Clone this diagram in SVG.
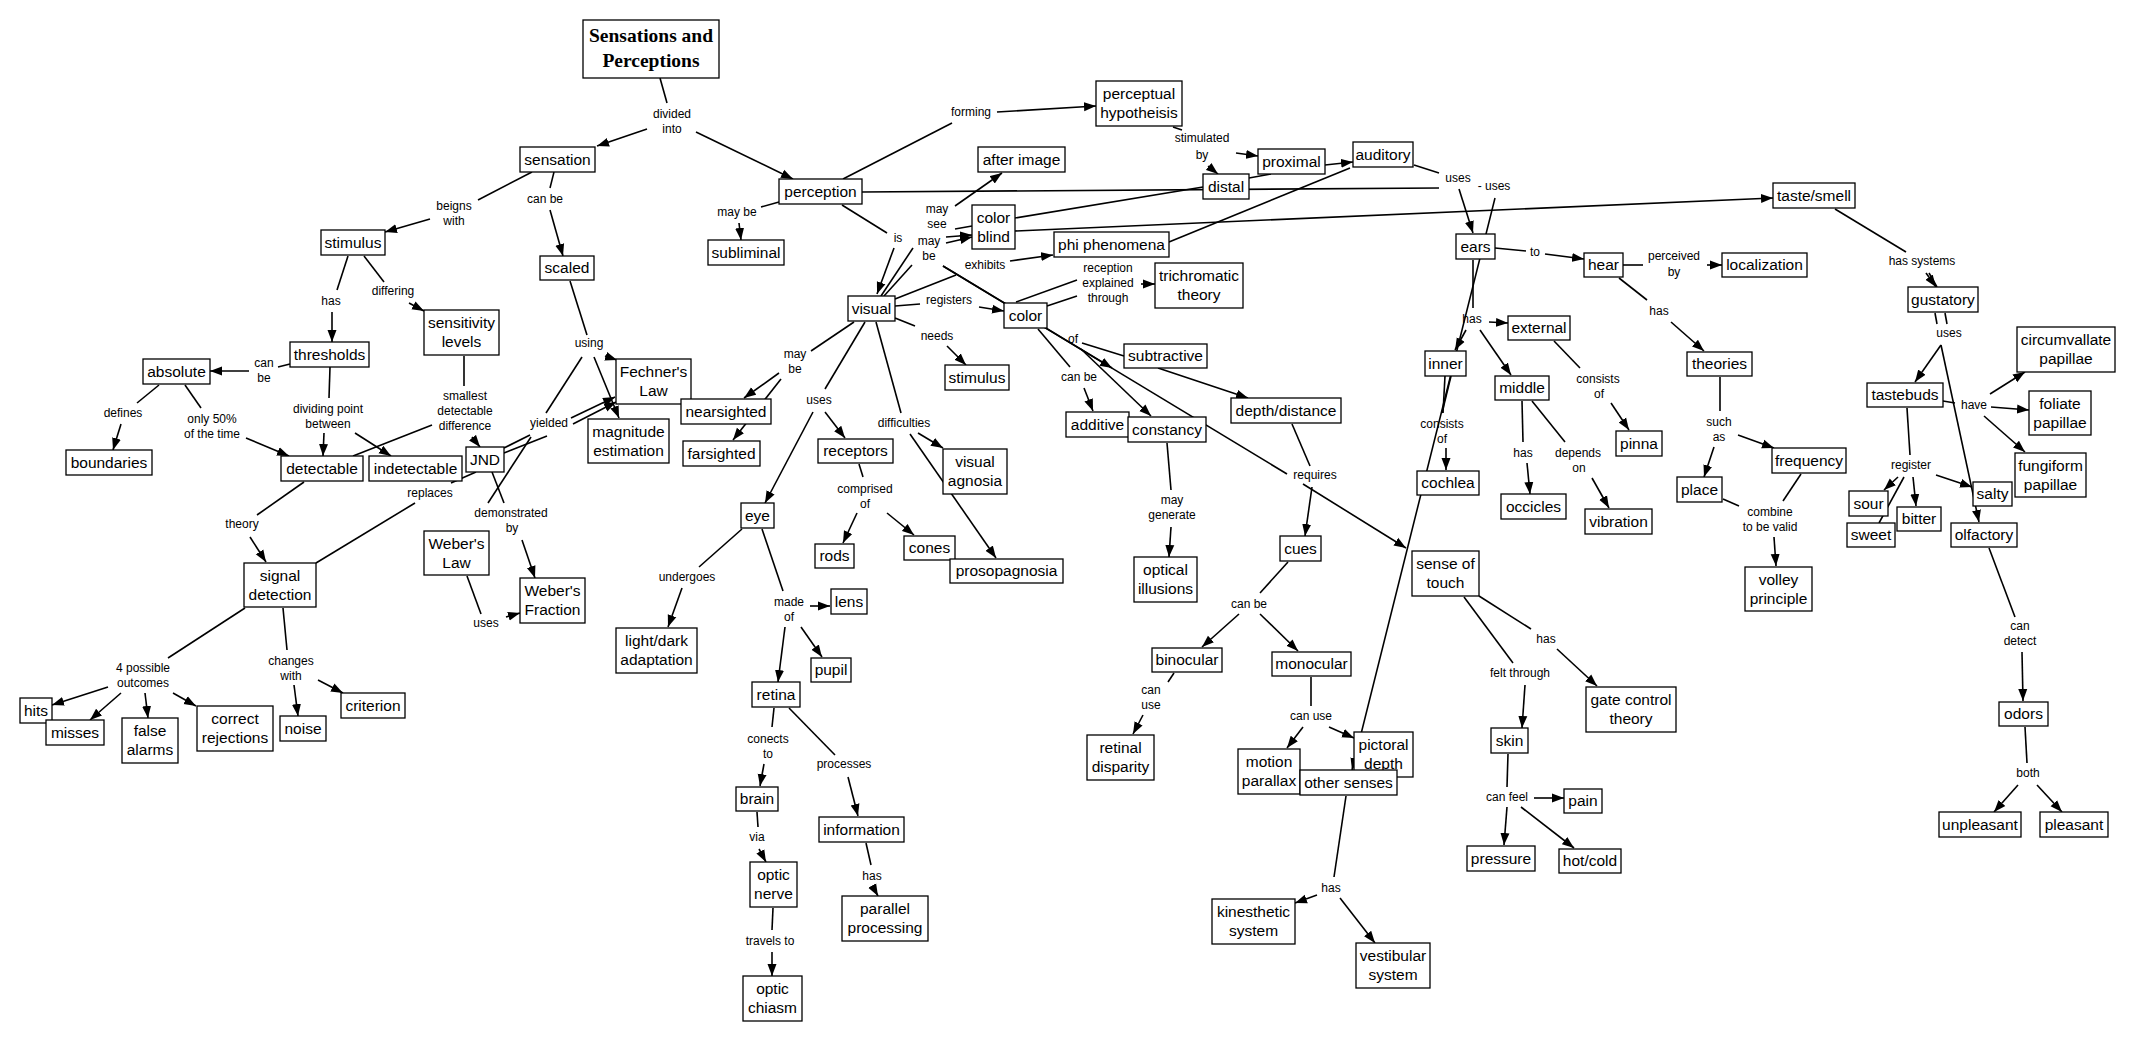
<svg xmlns="http://www.w3.org/2000/svg" width="2130" height="1041" viewBox="0 0 2130 1041">
<style>
.bg{fill:#fff}
.n rect{fill:#fff;stroke:#000;stroke-width:1.3}
.n text{font-family:"Liberation Sans",Arial,sans-serif;font-size:15.5px;text-anchor:middle;fill:#000}
.n text.t{font-family:"Liberation Serif","Times New Roman",serif;font-weight:bold;font-size:19.5px}
.c path{stroke:#000;stroke-width:1.6;fill:none}
.c path.a{marker-end:url(#ah)}
.l text{font-family:"Liberation Sans",Arial,sans-serif;font-size:12px;text-anchor:middle;fill:#000}
</style>
<defs>
<marker id="ah" markerUnits="userSpaceOnUse" markerWidth="13" markerHeight="10" refX="12" refY="5" orient="auto" viewBox="0 0 13 10"><path d="M0,0.5 L12,5 L0,9.5 z" fill="#000"/></marker>
</defs>
<rect class="bg" x="0" y="0" width="2130" height="1041"/>
<g class="c" id="connectors">
<path d="M660,78 L667,103"/>
<path class="a" d="M647,129 L597,146"/>
<path class="a" d="M696,132 L793,179"/>
<path d="M532,172 L478,200"/>
<path class="a" d="M430,219 L385,232"/>
<path d="M554,172 L550,188"/>
<path class="a" d="M550,210 L563,256"/>
<path d="M348,256 L337,290"/>
<path class="a" d="M332,312 L332,342"/>
<path d="M364,256 L384,282"/>
<path class="a" d="M409,303 L424,311"/>
<path d="M290,364 L278,367"/>
<path class="a" d="M249,371 L210,371"/>
<path d="M330,367 L329,398"/>
<path class="a" d="M324,433 L323,456"/>
<path class="a" d="M355,433 L391,456"/>
<path d="M159,385 L137,403"/>
<path class="a" d="M121,424 L113,450"/>
<path d="M185,385 L201,408"/>
<path class="a" d="M246,438 L289,456"/>
<path d="M464,356 L464,386"/>
<path class="a" d="M472,437 L480,447"/>
<path d="M353,456 L432,425"/>
<path d="M476,472 L451,483"/>
<path d="M415,503 L316,563"/>
<path d="M492,472 L504,503"/>
<path class="a" d="M522,540 L535,578"/>
<path d="M504,448 L530,435"/>
<path d="M504,453 L547,436"/>
<path d="M582,357 L546,413"/>
<path d="M531,437 L488,503"/>
<path class="a" d="M571,418 L615,397"/>
<path class="a" d="M573,424 L616,402"/>
<path d="M304,482 L257,515"/>
<path class="a" d="M250,537 L266,562"/>
<path d="M245,608 L168,658"/>
<path d="M283,608 L287,650"/>
<path class="a" d="M318,680 L343,693"/>
<path class="a" d="M294,685 L298,716"/>
<path class="a" d="M108,687 L52,705"/>
<path class="a" d="M121,693 L90,720"/>
<path class="a" d="M145,693 L148,718"/>
<path class="a" d="M173,693 L196,706"/>
<path d="M467,576 L481,614"/>
<path class="a" d="M506,617 L520,613"/>
<path d="M570,281 L587,335"/>
<path class="a" d="M605,356 L617,360"/>
<path class="a" d="M594,357 L619,418"/>
<path d="M779,202 L761,207"/>
<path class="a" d="M739,223 L741,240"/>
<path d="M843,179 L952,123"/>
<path class="a" d="M997,112 L1096,106"/>
<path d="M862,192 L1439,188"/>
<path d="M842,205 L887,233"/>
<path class="a" d="M894,248 L877,294"/>
<path class="a" d="M955,206 L1002,173"/>
<path d="M955,229 L972,226"/>
<path class="a" d="M946,237 L972,235"/>
<path class="a" d="M946,243 L972,237"/>
<path d="M881,296 L913,248"/>
<path d="M884,296 L912,265"/>
<path d="M1015,218 L1203,187"/>
<path class="a" d="M1015,231 L1773,198"/>
<path class="a" d="M943,266 L1112,368"/>
<path d="M943,266 L1287,474"/>
<path class="a" d="M1303,484 L1406,548"/>
<path d="M895,299 L956,275"/>
<path class="a" d="M1010,261 L1053,255"/>
<path d="M895,306 L920,304"/>
<path class="a" d="M979,307 L1004,311"/>
<path d="M895,318 L915,326"/>
<path class="a" d="M947,346 L966,365"/>
<path d="M1016,302 L1077,280"/>
<path d="M1047,306 L1077,296"/>
<path d="M1169,242 L1350,168"/>
<path class="a" d="M1141,284 L1155,284"/>
<path d="M1038,329 L1070,367"/>
<path class="a" d="M1084,388 L1093,411"/>
<path d="M1082,343 L1124,356"/>
<path class="a" d="M1081,349 L1151,416"/>
<path class="a" d="M1158,368 L1248,398"/>
<path d="M1292,424 L1310,466"/>
<path class="a" d="M1312,487 L1305,536"/>
<path d="M1167,443 L1171,490"/>
<path class="a" d="M1171,527 L1169,557"/>
<path d="M1288,562 L1260,593"/>
<path class="a" d="M1239,614 L1202,647"/>
<path class="a" d="M1260,614 L1298,651"/>
<path d="M1174,673 L1168,682"/>
<path class="a" d="M1143,715 L1133,734"/>
<path d="M1311,677 L1311,706"/>
<path class="a" d="M1303,727 L1287,748"/>
<path class="a" d="M1329,727 L1354,738"/>
<path d="M1346,796 L1334,877"/>
<path class="a" d="M1317,895 L1295,903"/>
<path class="a" d="M1340,898 L1375,943"/>
<path d="M1173,127 L1182,130"/>
<path class="a" d="M1236,153 L1258,156"/>
<path class="a" d="M1208,166 L1218,174"/>
<path d="M1249,178 L1271,174"/>
<path class="a" d="M1325,165 L1353,162"/>
<path d="M1414,165 L1439,173"/>
<path class="a" d="M1459,189 L1473,233"/>
<path class="a" d="M1495,198 L1352,770"/>
<path d="M1473,260 L1473,308"/>
<path class="a" d="M1466,330 L1455,350"/>
<path class="a" d="M1480,330 L1511,375"/>
<path class="a" d="M1489,322 L1508,323"/>
<path d="M1495,248 L1526,251"/>
<path class="a" d="M1545,254 L1584,259"/>
<path d="M1451,376 L1442,413"/>
<path d="M1445,376 L1443,413"/>
<path class="a" d="M1446,448 L1446,470"/>
<path d="M1554,341 L1580,368"/>
<path class="a" d="M1611,403 L1629,430"/>
<path d="M1522,401 L1523,442"/>
<path class="a" d="M1527,463 L1530,494"/>
<path d="M1532,401 L1565,442"/>
<path class="a" d="M1592,478 L1609,508"/>
<path d="M1479,596 L1531,629"/>
<path class="a" d="M1557,649 L1597,686"/>
<path d="M1464,597 L1513,663"/>
<path class="a" d="M1525,685 L1522,728"/>
<path d="M1508,754 L1507,787"/>
<path class="a" d="M1534,798 L1564,798"/>
<path class="a" d="M1507,807 L1504,845"/>
<path class="a" d="M1521,807 L1574,848"/>
<path d="M1623,265 L1643,265"/>
<path class="a" d="M1707,265 L1722,265"/>
<path d="M1619,278 L1647,300"/>
<path class="a" d="M1671,322 L1704,351"/>
<path d="M1720,377 L1720,411"/>
<path class="a" d="M1714,447 L1704,477"/>
<path class="a" d="M1738,435 L1774,448"/>
<path d="M1723,499 L1739,506"/>
<path d="M1801,474 L1783,501"/>
<path class="a" d="M1774,537 L1776,566"/>
<path d="M1835,209 L1906,252"/>
<path class="a" d="M1926,273 L1936,287"/>
<path d="M1929,273 L1937,287"/>
<path d="M1935,313 L1937,324"/>
<path d="M1945,313 L1947,324"/>
<path class="a" d="M1941,345 L1915,382"/>
<path class="a" d="M1941,345 L1979,522"/>
<path d="M1943,401 L1955,403"/>
<path class="a" d="M1990,394 L2025,372"/>
<path class="a" d="M1991,407 L2029,410"/>
<path class="a" d="M1984,416 L2025,452"/>
<path d="M1907,408 L1910,455"/>
<path class="a" d="M1898,477 L1884,490"/>
<path d="M1904,477 L1879,523"/>
<path class="a" d="M1913,477 L1916,506"/>
<path class="a" d="M1936,475 L1972,487"/>
<path d="M1989,548 L2015,617"/>
<path class="a" d="M2022,652 L2023,701"/>
<path d="M2025,727 L2027,763"/>
<path class="a" d="M2018,785 L1994,812"/>
<path class="a" d="M2037,785 L2062,812"/>
<path d="M854,322 L811,351"/>
<path class="a" d="M779,373 L744,398"/>
<path class="a" d="M781,379 L733,440"/>
<path d="M865,322 L825,389"/>
<path class="a" d="M813,412 L765,503"/>
<path class="a" d="M825,412 L845,438"/>
<path d="M876,322 L901,413"/>
<path class="a" d="M918,433 L943,448"/>
<path class="a" d="M910,434 L996,558"/>
<path d="M859,464 L863,477"/>
<path class="a" d="M857,513 L843,543"/>
<path class="a" d="M887,513 L914,535"/>
<path d="M742,529 L699,567"/>
<path class="a" d="M682,588 L668,627"/>
<path d="M762,529 L783,591"/>
<path class="a" d="M810,606 L830,606"/>
<path class="a" d="M801,627 L822,657"/>
<path class="a" d="M785,627 L778,682"/>
<path d="M774,708 L772,727"/>
<path class="a" d="M764,764 L760,786"/>
<path d="M789,708 L835,755"/>
<path class="a" d="M848,777 L858,816"/>
<path d="M757,812 L758,827"/>
<path class="a" d="M759,849 L766,862"/>
<path d="M773,908 L772,930"/>
<path class="a" d="M772,952 L772,976"/>
<path d="M866,843 L871,865"/>
<path class="a" d="M873,887 L878,896"/>
</g>
<g class="l" id="labels">
<text x="672" y="118">divided</text><text x="672" y="133">into</text>
<text x="454" y="210">beigns</text><text x="454" y="225">with</text>
<text x="545" y="203">can be</text>
<text x="331" y="305">has</text>
<text x="393" y="295">differing</text>
<text x="264" y="367">can</text><text x="264" y="382">be</text>
<text x="328" y="413">dividing point</text><text x="328" y="428">between</text>
<text x="465" y="400">smallest</text><text x="465" y="415">detectable</text><text x="465" y="430">difference</text>
<text x="123" y="417">defines</text>
<text x="212" y="423">only 50%</text><text x="212" y="438">of the time</text>
<text x="242" y="528">theory</text>
<text x="430" y="497">replaces</text>
<text x="549" y="427">yielded</text>
<text x="511" y="517">demonstrated</text><text x="512" y="532">by</text>
<text x="486" y="627">uses</text>
<text x="143" y="672">4 possible</text><text x="143" y="687">outcomes</text>
<text x="291" y="665">changes</text><text x="291" y="680">with</text>
<text x="589" y="347">using</text>
<text x="737" y="216">may be</text>
<text x="971" y="116">forming</text>
<text x="937" y="213">may</text><text x="937" y="228">see</text>
<text x="898" y="242">is</text>
<text x="929" y="245">may</text><text x="929" y="260">be</text>
<text x="985" y="269">exhibits</text>
<text x="949" y="304">registers</text>
<text x="937" y="340">needs</text>
<text x="795" y="358">may</text><text x="795" y="373">be</text>
<text x="819" y="404">uses</text>
<text x="904" y="427">difficulties</text>
<text x="865" y="493">comprised</text><text x="865" y="508">of</text>
<text x="687" y="581">undergoes</text>
<text x="789" y="606">made</text><text x="789" y="621">of</text>
<text x="768" y="743">conects</text><text x="768" y="758">to</text>
<text x="844" y="768">processes</text>
<text x="757" y="841">via</text>
<text x="872" y="880">has</text>
<text x="770" y="945">travels to</text>
<text x="1202" y="142">stimulated</text><text x="1202" y="159">by</text>
<text x="1108" y="272">reception</text><text x="1108" y="287">explained</text><text x="1108" y="302">through</text>
<text x="1073" y="343">of</text>
<text x="1079" y="381">can be</text>
<text x="1172" y="504">may</text><text x="1172" y="519">generate</text>
<text x="1315" y="479">requires</text>
<text x="1249" y="608">can be</text>
<text x="1151" y="694">can</text><text x="1151" y="709">use</text>
<text x="1311" y="720">can use</text>
<text x="1331" y="892">has</text>
<text x="1458" y="182">uses</text>
<text x="1494" y="190">- uses</text>
<text x="1535" y="256">to</text>
<text x="1472" y="323">has</text>
<text x="1442" y="428">consists</text><text x="1442" y="443">of</text>
<text x="1598" y="383">consists</text><text x="1599" y="398">of</text>
<text x="1523" y="457">has</text>
<text x="1578" y="457">depends</text><text x="1579" y="472">on</text>
<text x="1546" y="643">has</text>
<text x="1520" y="677">felt through</text>
<text x="1507" y="801">can feel</text>
<text x="1674" y="260">perceived</text><text x="1674" y="276">by</text>
<text x="1659" y="315">has</text>
<text x="1719" y="426">such</text><text x="1719" y="441">as</text>
<text x="1770" y="516">combine</text><text x="1770" y="531">to be valid</text>
<text x="1922" y="265">has systems</text>
<text x="1949" y="337">uses</text>
<text x="1974" y="409">have</text>
<text x="1911" y="469">register</text>
<text x="2020" y="630">can</text><text x="2020" y="645">detect</text>
<text x="2028" y="777">both</text>
</g>
<g class="n" id="nodes">
<g id="n-title"><rect x="583" y="20" width="136" height="58"/><text class="t" x="651" y="42">Sensations and</text><text class="t" x="651" y="67">Perceptions</text></g>
<g id="n-sensation"><rect x="520" y="147" width="75" height="25"/><text x="557.5" y="164.5">sensation</text></g>
<g id="n-perception"><rect x="779" y="179" width="83" height="25"/><text x="820.5" y="196.5">perception</text></g>
<g id="n-stimulus"><rect x="321" y="230" width="64" height="25"/><text x="353" y="247.5">stimulus</text></g>
<g id="n-scaled"><rect x="540" y="256" width="54" height="24"/><text x="567" y="273">scaled</text></g>
<g id="n-subliminal"><rect x="708" y="240" width="76" height="25"/><text x="746" y="257.5">subliminal</text></g>
<g id="n-thresholds"><rect x="290" y="342" width="79" height="25"/><text x="329.5" y="359.5">thresholds</text></g>
<g id="n-sensitivity"><rect x="424" y="310" width="75" height="45"/><text x="461.5" y="327.5">sensitivity</text><text x="461.5" y="347">levels</text></g>
<g id="n-absolute"><rect x="143" y="359" width="67" height="25"/><text x="176.5" y="376.5">absolute</text></g>
<g id="n-boundaries"><rect x="66" y="450" width="86" height="25"/><text x="109" y="467.5">boundaries</text></g>
<g id="n-detectable"><rect x="281" y="456" width="82" height="25"/><text x="322" y="473.5">detectable</text></g>
<g id="n-indetectable"><rect x="369" y="456" width="93" height="25"/><text x="415.5" y="473.5">indetectable</text></g>
<g id="n-jnd"><rect x="466" y="447" width="38" height="25"/><text x="485" y="464.5">JND</text></g>
<g id="n-signal"><rect x="244" y="563" width="72" height="44"/><text x="280" y="580.5">signal</text><text x="280" y="600">detection</text></g>
<g id="n-weberslaw"><rect x="424" y="531" width="65" height="44"/><text x="456.5" y="548.5">Weber's</text><text x="456.5" y="568">Law</text></g>
<g id="n-webersfraction"><rect x="520" y="578" width="65" height="45"/><text x="552.5" y="595.5">Weber's</text><text x="552.5" y="615">Fraction</text></g>
<g id="n-hits"><rect x="20" y="698" width="32" height="25"/><text x="36" y="715.5">hits</text></g>
<g id="n-misses"><rect x="46" y="720" width="58" height="25"/><text x="75" y="737.5">misses</text></g>
<g id="n-falsealarms"><rect x="122" y="718" width="56" height="45"/><text x="150" y="735.5">false</text><text x="150" y="755">alarms</text></g>
<g id="n-correct"><rect x="197" y="706" width="76" height="45"/><text x="235" y="723.5">correct</text><text x="235" y="743">rejections</text></g>
<g id="n-noise"><rect x="280" y="716" width="46" height="25"/><text x="303" y="733.5">noise</text></g>
<g id="n-criterion"><rect x="341" y="693" width="64" height="25"/><text x="373" y="710.5">criterion</text></g>
<g id="n-fechner"><rect x="616" y="359" width="75" height="45"/><text x="653.5" y="376.5">Fechner's</text><text x="653.5" y="396">Law</text></g>
<g id="n-magnitude"><rect x="588" y="419" width="81" height="44"/><text x="628.5" y="436.5">magnitude</text><text x="628.5" y="456">estimation</text></g>
<g id="n-nearsighted"><rect x="681" y="399" width="90" height="25"/><text x="726" y="416.5">nearsighted</text></g>
<g id="n-farsighted"><rect x="683" y="441" width="77" height="25"/><text x="721.5" y="458.5">farsighted</text></g>
<g id="n-visual"><rect x="848" y="296" width="47" height="25"/><text x="871.5" y="313.5">visual</text></g>
<g id="n-afterimage"><rect x="978" y="147" width="87" height="25"/><text x="1021.5" y="164.5">after image</text></g>
<g id="n-colorblind"><rect x="972" y="205" width="43" height="44"/><text x="993.5" y="222.5">color</text><text x="993.5" y="242">blind</text></g>
<g id="n-phi"><rect x="1054" y="232" width="115" height="25"/><text x="1111.5" y="249.5">phi phenomena</text></g>
<g id="n-color"><rect x="1004" y="303" width="43" height="25"/><text x="1025.5" y="320.5">color</text></g>
<g id="n-stimulus2"><rect x="945" y="365" width="64" height="25"/><text x="977" y="382.5">stimulus</text></g>
<g id="n-receptors"><rect x="818" y="439" width="75" height="24"/><text x="855.5" y="456">receptors</text></g>
<g id="n-visualagnosia"><rect x="943" y="449" width="64" height="45"/><text x="975" y="466.5">visual</text><text x="975" y="486">agnosia</text></g>
<g id="n-cones"><rect x="904" y="536" width="51" height="24"/><text x="929.5" y="553">cones</text></g>
<g id="n-prosopagnosia"><rect x="950" y="559" width="113" height="24"/><text x="1006.5" y="576">prosopagnosia</text></g>
<g id="n-eye"><rect x="741" y="503" width="33" height="25"/><text x="757.5" y="520.5">eye</text></g>
<g id="n-rods"><rect x="815" y="544" width="39" height="24"/><text x="834.5" y="561">rods</text></g>
<g id="n-lightdark"><rect x="616" y="628" width="81" height="45"/><text x="656.5" y="645.5">light/dark</text><text x="656.5" y="665">adaptation</text></g>
<g id="n-lens"><rect x="831" y="589" width="36" height="25"/><text x="849" y="606.5">lens</text></g>
<g id="n-pupil"><rect x="811" y="658" width="40" height="24"/><text x="831" y="675">pupil</text></g>
<g id="n-retina"><rect x="752" y="682" width="48" height="25"/><text x="776" y="699.5">retina</text></g>
<g id="n-brain"><rect x="736" y="787" width="42" height="24"/><text x="757" y="804">brain</text></g>
<g id="n-opticnerve"><rect x="750" y="862" width="47" height="45"/><text x="773.5" y="879.5">optic</text><text x="773.5" y="899">nerve</text></g>
<g id="n-opticchiasm"><rect x="743" y="976" width="59" height="45"/><text x="772.5" y="993.5">optic</text><text x="772.5" y="1013">chiasm</text></g>
<g id="n-information"><rect x="819" y="817" width="85" height="25"/><text x="861.5" y="834.5">information</text></g>
<g id="n-parallel"><rect x="842" y="896" width="86" height="45"/><text x="885" y="913.5">parallel</text><text x="885" y="933">processing</text></g>
<g id="n-perceptual"><rect x="1096" y="81" width="86" height="45"/><text x="1139" y="98.5">perceptual</text><text x="1139" y="118">hypotheisis</text></g>
<g id="n-distal"><rect x="1203" y="174" width="46" height="25"/><text x="1226" y="191.5">distal</text></g>
<g id="n-proximal"><rect x="1258" y="149" width="67" height="25"/><text x="1291.5" y="166.5">proximal</text></g>
<g id="n-auditory"><rect x="1353" y="142" width="60" height="25"/><text x="1383" y="159.5">auditory</text></g>
<g id="n-trichromatic"><rect x="1155" y="263" width="88" height="45"/><text x="1199" y="280.5">trichromatic</text><text x="1199" y="300">theory</text></g>
<g id="n-subtractive"><rect x="1124" y="344" width="83" height="24"/><text x="1165.5" y="361">subtractive</text></g>
<g id="n-additive"><rect x="1066" y="412" width="63" height="25"/><text x="1097.5" y="429.5">additive</text></g>
<g id="n-constancy"><rect x="1128" y="417" width="78" height="25"/><text x="1167" y="434.5">constancy</text></g>
<g id="n-depth"><rect x="1231" y="398" width="110" height="25"/><text x="1286" y="415.5">depth/distance</text></g>
<g id="n-optical"><rect x="1134" y="557" width="63" height="45"/><text x="1165.5" y="574.5">optical</text><text x="1165.5" y="594">illusions</text></g>
<g id="n-cues"><rect x="1280" y="536" width="41" height="25"/><text x="1300.5" y="553.5">cues</text></g>
<g id="n-binocular"><rect x="1152" y="648" width="70" height="24"/><text x="1187" y="665">binocular</text></g>
<g id="n-monocular"><rect x="1272" y="652" width="79" height="24"/><text x="1311.5" y="669">monocular</text></g>
<g id="n-retinaldisparity"><rect x="1087" y="735" width="67" height="45"/><text x="1120.5" y="752.5">retinal</text><text x="1120.5" y="772">disparity</text></g>
<g id="n-motion"><rect x="1238" y="749" width="62" height="45"/><text x="1269" y="766.5">motion</text><text x="1269" y="786">parallax</text></g>
<g id="n-pictoral"><rect x="1354" y="732" width="59" height="45"/><text x="1383.5" y="749.5">pictoral</text><text x="1383.5" y="769">depth</text></g>
<g id="n-othersenses"><rect x="1300" y="770" width="97" height="25"/><text x="1348.5" y="787.5">other senses</text></g>
<g id="n-kinesthetic"><rect x="1212" y="899" width="83" height="45"/><text x="1253.5" y="916.5">kinesthetic</text><text x="1253.5" y="936">system</text></g>
<g id="n-vestibular"><rect x="1356" y="943" width="74" height="45"/><text x="1393" y="960.5">vestibular</text><text x="1393" y="980">system</text></g>
<g id="n-ears"><rect x="1456" y="234" width="39" height="25"/><text x="1475.5" y="251.5">ears</text></g>
<g id="n-hear"><rect x="1584" y="253" width="39" height="24"/><text x="1603.5" y="270">hear</text></g>
<g id="n-localization"><rect x="1722" y="253" width="85" height="24"/><text x="1764.5" y="270">localization</text></g>
<g id="n-external"><rect x="1508" y="316" width="62" height="24"/><text x="1539" y="333">external</text></g>
<g id="n-inner"><rect x="1425" y="351" width="41" height="25"/><text x="1445.5" y="368.5">inner</text></g>
<g id="n-middle"><rect x="1495" y="376" width="54" height="24"/><text x="1522" y="393">middle</text></g>
<g id="n-cochlea"><rect x="1417" y="471" width="62" height="24"/><text x="1448" y="488">cochlea</text></g>
<g id="n-occicles"><rect x="1501" y="494" width="65" height="25"/><text x="1533.5" y="511.5">occicles</text></g>
<g id="n-vibration"><rect x="1585" y="509" width="67" height="25"/><text x="1618.5" y="526.5">vibration</text></g>
<g id="n-pinna"><rect x="1616" y="431" width="46" height="25"/><text x="1639" y="448.5">pinna</text></g>
<g id="n-touch"><rect x="1412" y="551" width="67" height="45"/><text x="1445.5" y="568.5">sense of</text><text x="1445.5" y="588">touch</text></g>
<g id="n-gate"><rect x="1586" y="687" width="90" height="45"/><text x="1631" y="704.5">gate control</text><text x="1631" y="724">theory</text></g>
<g id="n-skin"><rect x="1491" y="728" width="37" height="25"/><text x="1509.5" y="745.5">skin</text></g>
<g id="n-pain"><rect x="1564" y="789" width="38" height="24"/><text x="1583" y="806">pain</text></g>
<g id="n-pressure"><rect x="1467" y="846" width="68" height="25"/><text x="1501" y="863.5">pressure</text></g>
<g id="n-hotcold"><rect x="1559" y="849" width="62" height="24"/><text x="1590" y="866">hot/cold</text></g>
<g id="n-theories"><rect x="1687" y="352" width="65" height="24"/><text x="1719.5" y="369">theories</text></g>
<g id="n-place"><rect x="1677" y="477" width="45" height="25"/><text x="1699.5" y="494.5">place</text></g>
<g id="n-frequency"><rect x="1772" y="448" width="74" height="25"/><text x="1809" y="465.5">frequency</text></g>
<g id="n-volley"><rect x="1745" y="567" width="67" height="44"/><text x="1778.5" y="584.5">volley</text><text x="1778.5" y="604">principle</text></g>
<g id="n-tastesmell"><rect x="1773" y="183" width="82" height="25"/><text x="1814" y="200.5">taste/smell</text></g>
<g id="n-gustatory"><rect x="1908" y="287" width="70" height="25"/><text x="1943" y="304.5">gustatory</text></g>
<g id="n-tastebuds"><rect x="1867" y="383" width="76" height="24"/><text x="1905" y="400">tastebuds</text></g>
<g id="n-circumvallate"><rect x="2017" y="327" width="98" height="45"/><text x="2066" y="344.5">circumvallate</text><text x="2066" y="364">papillae</text></g>
<g id="n-foliate"><rect x="2029" y="391" width="62" height="44"/><text x="2060" y="408.5">foliate</text><text x="2060" y="428">papillae</text></g>
<g id="n-fungiform"><rect x="2015" y="453" width="71" height="44"/><text x="2050.5" y="470.5">fungiform</text><text x="2050.5" y="490">papillae</text></g>
<g id="n-sour"><rect x="1849" y="491" width="39" height="25"/><text x="1868.5" y="508.5">sour</text></g>
<g id="n-sweet"><rect x="1847" y="523" width="48" height="24"/><text x="1871" y="540">sweet</text></g>
<g id="n-bitter"><rect x="1897" y="507" width="44" height="24"/><text x="1919" y="524">bitter</text></g>
<g id="n-salty"><rect x="1973" y="482" width="39" height="24"/><text x="1992.5" y="499">salty</text></g>
<g id="n-olfactory"><rect x="1951" y="523" width="66" height="24"/><text x="1984" y="540">olfactory</text></g>
<g id="n-odors"><rect x="1999" y="702" width="49" height="24"/><text x="2023.5" y="719">odors</text></g>
<g id="n-unpleasant"><rect x="1939" y="812" width="82" height="25"/><text x="1980" y="829.5">unpleasant</text></g>
<g id="n-pleasant"><rect x="2040" y="812" width="68" height="25"/><text x="2074" y="829.5">pleasant</text></g>
</g>
</svg>
